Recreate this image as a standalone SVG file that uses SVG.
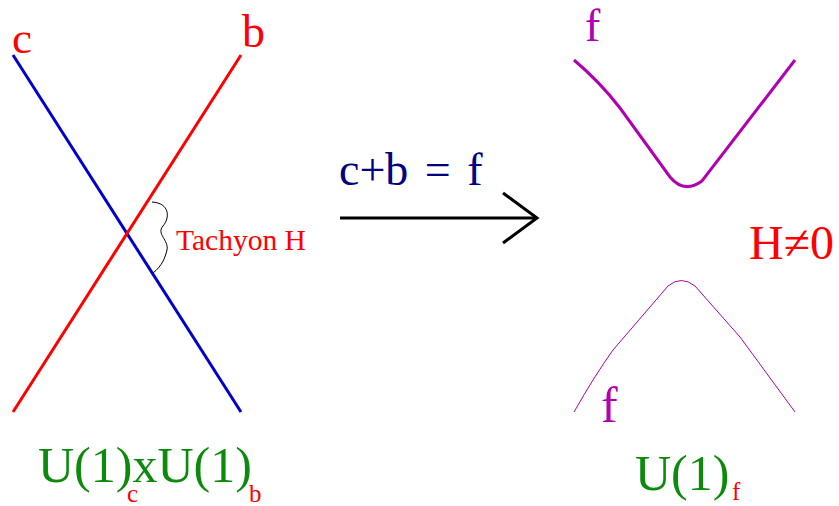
<svg xmlns="http://www.w3.org/2000/svg" width="839" height="506" viewBox="0 0 839 506">
<style>
text{font-family:"Liberation Serif","Times New Roman",serif}
.red{fill:#ff0000}
.green{fill:#0b8a0b}
.purple{fill:#b000b0}
.ln{fill:none;stroke-linecap:butt}
</style>
<rect width="839" height="506" fill="#ffffff"/>
<g id="connectors">
<line id="line-c" x1="13" y1="55" x2="241" y2="412" stroke="#0000cc" stroke-width="3"/>
<line id="line-b" x1="241" y1="55" x2="13" y2="412" stroke="#ff0000" stroke-width="3"/>
<path id="tachyon-wiggle" class="ln" d="M152,202 C170,203 170,218 163,226 C156,234 169,240 167,250 C165,258 162,266 153,273" stroke="#000" stroke-width="1"/>
<g id="arrow" stroke="#000" stroke-width="3" fill="none">
<line x1="340" y1="218" x2="537" y2="218"/>
<polyline points="503,193 537,218 503,243"/>
</g>
<path id="f-upper" class="ln" d="M574,60 Q600,82 620,108 L670,177 Q684,194 702,181 L795,60" stroke="#b000b0" stroke-width="3"/>
<path id="f-lower" class="ln" d="M574,412 Q595,375 613,350 L668,286 Q681,275 695,286 L740,337 L795,412" stroke="#b000b0" stroke-width="1"/>
</g>
<g id="label-c"><text x="12" y="53" font-size="45" class="red">c</text></g>
<g id="label-b"><text x="242" y="47" font-size="46" class="red">b</text></g>
<g id="label-tachyon"><text x="176" y="250" font-size="29.5" class="red">Tachyon H</text></g>
<g id="label-eq"><text x="339" y="185" font-size="46" fill="#000080" word-spacing="5">c+b = f</text></g>
<g id="label-f-top"><text x="585" y="41" font-size="46" class="purple">f</text></g>
<g id="label-f-bottom"><text x="601" y="422" font-size="50" class="purple">f</text></g>
<g id="label-H"><text x="749" y="259" font-size="48" class="red">H≠0</text></g>
<g id="label-group-left">
<text x="38" y="482" font-size="50" class="green">U(1)xU(1)</text>
<text x="127" y="502" font-size="25" class="red">c</text>
<text x="249" y="502" font-size="25" class="red">b</text>
</g>
<g id="label-group-right">
<text x="635" y="490" font-size="50" class="green">U(1)</text>
<text x="732" y="500" font-size="25" class="red">f</text>
</g>
</svg>
